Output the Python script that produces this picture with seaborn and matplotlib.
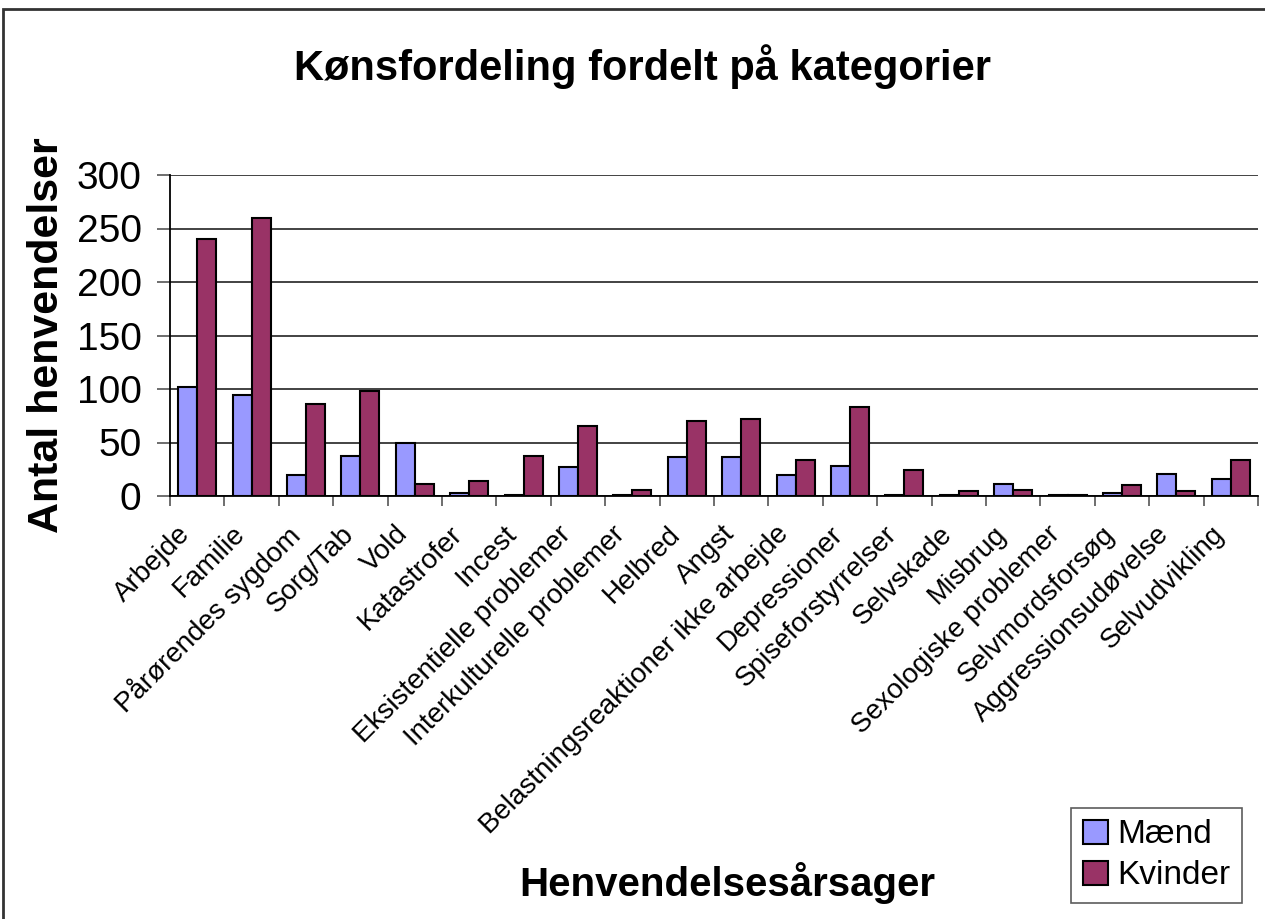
# Kønsfordeling fordelt på kategorier - grouped bar chart

import seaborn as sns
import pandas as pd
import matplotlib.pyplot as plt
import matplotlib.transforms as mtransforms
from matplotlib.patches import Rectangle

categories = ['Arbejde', 'Familie', 'Pårørendes sygdom', 'Sorg/Tab', 'Vold',
              'Katastrofer', 'Incest', 'Eksistentielle problemer',
              'Interkulturelle problemer', 'Helbred', 'Angst',
              'Belastningsreaktioner ikke arbejde', 'Depressioner',
              'Spiseforstyrrelser', 'Selvskade', 'Misbrug',
              'Sexologiske problemer', 'Selvmordsforsøg',
              'Aggressionsudøvelse', 'Selvudvikling']
maend = [102, 94, 20, 37, 50, 3, 1, 27, 1, 36, 36, 20, 28, 1, 1, 11, 1, 3, 21, 16]
kvinder = [240, 260, 86, 98, 11, 14, 37, 65, 6, 70, 72, 34, 83, 24, 5, 6, 1, 10, 5, 34]
series = ['Mænd', 'Kvinder']
colors = ['#9999FF', '#993366']

df = pd.DataFrame({
    'Kategori': categories * 2,
    'Køn': [series[0]] * len(categories) + [series[1]] * len(categories),
    'Antal': maend + kvinder,
})

sns.set_style('white')
plt.rcParams['font.family'] = ['Liberation Sans', 'DejaVu Sans']
plt.rcParams['text.color'] = 'black'
plt.rcParams['axes.labelcolor'] = 'black'
plt.rcParams['xtick.color'] = 'black'
plt.rcParams['ytick.color'] = 'black'

fig = plt.figure(figsize=(12.65, 9.19), dpi=100)
W, H = 1265, 919
ax = fig.add_axes([170 / W, 1 - 496 / H, (1258 - 170) / W, (496 - 175) / H])

sns.barplot(data=df, x='Kategori', y='Antal', hue='Køn', palette=colors,
            saturation=1, width=0.7, edgecolor='black', linewidth=1.5,
            ax=ax, legend=True)

ax.set_ylim(0, 300)
ax.set_xlim(-0.5, len(categories) - 0.5)
ax.set_yticks(range(0, 301, 50))
ax.yaxis.grid(True, color='#222222', linewidth=1.2)
ax.set_axisbelow(True)
for s in ['top', 'right']:
    ax.spines[s].set_visible(False)
for s in ['left', 'bottom']:
    ax.spines[s].set_color('black')
    ax.spines[s].set_linewidth(1.3)

ax.tick_params(axis='y', labelsize=28, length=9.5, width=1.2, color='#555555',
               labelcolor='black', left=True, pad=11)
ax.set_xticks(range(len(categories)))
ax.set_xticklabels(categories, rotation=45, ha='right', va='top',
                   rotation_mode='anchor', fontsize=20)
ax.tick_params(axis='x', which='major', length=0, pad=18, labelcolor='black')
shift = mtransforms.ScaledTranslation(-20 / 100, 0, fig.dpi_scale_trans)
for lab in ax.get_xticklabels():
    lab.set_transform(lab.get_transform() + shift)
ax.set_xticks([i - 0.5 for i in range(len(categories) + 1)], minor=True)
ax.tick_params(axis='x', which='minor', length=7, width=1.2, color='#555555', bottom=True)

ax.set_xlabel('')
ax.set_ylabel('Antal henvendelser', fontsize=31, fontweight='bold')
ax.yaxis.set_label_coords(-103 / (1258 - 170), 0.5)

fig.text(642 / W, 1 - 67 / H, 'Kønsfordeling fordelt på kategorier',
         ha='center', va='center', fontsize=30, fontweight='bold')
fig.text(727 / W, 1 - 883 / H, 'Henvendelsesårsager',
         ha='center', va='center', fontsize=29, fontweight='bold')

ax.legend(loc='lower left', bbox_to_anchor=(1071 / W, 1 - 903 / H),
          bbox_transform=fig.transFigure, fontsize=24, frameon=True,
          fancybox=False, edgecolor='#333333', handlelength=0.75,
          handleheight=0.75, handletextpad=0.3, borderpad=0.35,
          borderaxespad=0, labelspacing=0.3, title=None)
ax.get_legend().get_frame().set_linewidth(1.2)

fig.patches.append(Rectangle((3 / W, -0.05), 1.1, 1 - 9 / H + 0.05,
                             transform=fig.transFigure, fill=False,
                             edgecolor='#333333', linewidth=2))

fig.savefig('out.png', dpi=100)
